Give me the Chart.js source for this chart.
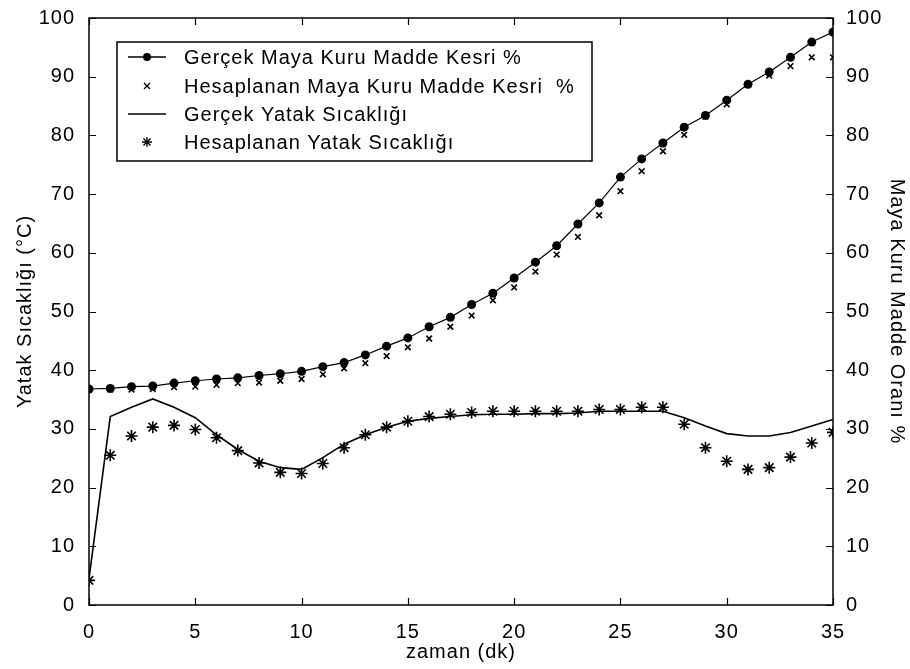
<!DOCTYPE html>
<html>
<head>
<meta charset="utf-8">
<script src="https://cdn.jsdelivr.net/npm/chart.js@4"></script>
<style>
  html, body { margin: 0; padding: 0; background: #fff; }
  #wrap { width: 910px; height: 669px; }
</style>
</head>
<body>
<div id="wrap"><canvas id="dryingChart" width="910" height="669"></canvas></div>
<script>
// time axis (dk)
const minutes = [0,1,2,3,4,5,6,7,8,9,10,11,12,13,14,15,16,17,18,19,20,21,22,23,24,25,26,27,28,29,30,31,32,33,34,35];

// yeast dry matter, measured and calculated (right axis, %)
const mayaGercek = [36.8,36.9,37.2,37.3,37.8,38.2,38.5,38.7,39.1,39.4,39.8,40.6,41.3,42.6,44.1,45.5,47.4,49.0,51.2,53.1,55.7,58.4,61.2,64.9,68.5,72.9,76.0,78.7,81.4,83.4,86.0,88.7,90.8,93.3,95.9,97.6];
const mayaHesap = [36.7,36.7,36.7,36.8,37.1,37.2,37.5,37.8,37.9,38.2,38.5,39.3,40.3,41.2,42.4,43.9,45.4,47.4,49.3,51.9,54.1,56.8,59.7,62.7,66.4,70.5,73.9,77.3,80.1,83.2,85.3,88.6,90.2,91.8,93.3,93.3];

// bed temperature, measured and calculated (left axis, degC)
const yatakGercek = [4.5,32.1,33.7,35.1,33.7,31.9,29.0,26.5,24.5,23.4,23.1,25.1,27.4,29.0,30.3,31.3,31.8,32.1,32.4,32.5,32.5,32.6,32.6,32.7,33.0,33.0,33.0,33.0,31.9,30.5,29.2,28.8,28.8,29.4,30.5,31.6];
const yatakHesap = [4.2,25.5,28.8,30.3,30.6,29.9,28.5,26.3,24.2,22.6,22.4,24.1,26.8,29.0,30.3,31.3,32.1,32.5,32.8,33.0,33.0,33.0,33.0,33.0,33.3,33.3,33.7,33.7,30.8,26.8,24.5,23.1,23.4,25.2,27.6,29.4];

const xTicks = [0,5,10,15,20,25,30,35];
const yTicks = [0,10,20,30,40,50,60,70,80,90,100];

const legendLabels = [
    "Gerçek Maya Kuru Madde Kesri %",
    "Hesaplanan Maya Kuru Madde Kesri  %",
    "Gerçek Yatak Sıcaklığı",
    "Hesaplanan Yatak Sıcaklığı"
];

const FONT = "'Liberation Sans', Arial, sans-serif";

function pairs(xs, ys) {
    return xs.map((x, i) => ({ x: x, y: ys[i] }));
}

// MATLAB style box with inward ticks + legend inside the axes
const boxPlugin = {
    id: 'boxPlugin',
    beforeDraw(chart) {
        chart.ctx.letterSpacing = '1px';
    },
    afterDatasetsDraw(chart) {
        const { ctx, chartArea: a, scales } = chart;
        const len = 7;
        ctx.save();
        ctx.strokeStyle = '#000';
        ctx.lineWidth = 1.5;
        ctx.strokeRect(a.left, a.top, a.right - a.left, a.bottom - a.top);
        ctx.beginPath();
        xTicks.forEach(v => {
            const px = Math.round(scales.x.getPixelForValue(v)) + 0.5;
            ctx.moveTo(px, a.bottom); ctx.lineTo(px, a.bottom - len);
            ctx.moveTo(px, a.top); ctx.lineTo(px, a.top + len);
        });
        yTicks.forEach(v => {
            const py = Math.round(scales.y.getPixelForValue(v)) + 0.5;
            ctx.moveTo(a.left, py); ctx.lineTo(a.left + len, py);
            const pr = Math.round(scales.y1.getPixelForValue(v)) + 0.5;
            ctx.moveTo(a.right, pr); ctx.lineTo(a.right - len, pr);
        });
        ctx.lineWidth = 1.2;
        ctx.stroke();
        ctx.restore();
    },
    afterDraw(chart) {
        const ctx = chart.ctx;
        const bx = 117, by = 42, bw = 475, bh = 119;
        const rows = [57, 86, 114, 142];
        ctx.save();
        ctx.fillStyle = '#fff';
        ctx.fillRect(bx, by, bw, bh);
        ctx.strokeStyle = '#000';
        ctx.lineWidth = 1.5;
        ctx.strokeRect(bx, by, bw, bh);
        ctx.font = '20px ' + FONT;
        ctx.letterSpacing = '1px';
        ctx.fillStyle = '#000';
        ctx.textBaseline = 'middle';
        const x0 = 128, x1 = 166, xm = (x0 + x1) / 2;
        rows.forEach((ry, i) => {
            ctx.beginPath();
            ctx.lineWidth = 1.3;
            if (i === 0 || i === 2) {
                ctx.moveTo(x0, ry); ctx.lineTo(x1, ry); ctx.stroke();
            }
            if (i === 0) {
                ctx.beginPath(); ctx.arc(xm, ry, 4, 0, Math.PI * 2); ctx.fill();
            }
            if (i === 1) {
                const r = 3;
                ctx.moveTo(xm - r, ry - r); ctx.lineTo(xm + r, ry + r);
                ctx.moveTo(xm + r, ry - r); ctx.lineTo(xm - r, ry + r);
                ctx.stroke();
            }
            if (i === 3) {
                const r = 5;
                for (let k = 0; k < 4; k++) {
                    const ang = k * Math.PI / 4;
                    ctx.moveTo(xm - r * Math.cos(ang), ry - r * Math.sin(ang));
                    ctx.lineTo(xm + r * Math.cos(ang), ry + r * Math.sin(ang));
                }
                ctx.stroke();
            }
            ctx.fillText(legendLabels[i], 184, ry + 1);
        });
        ctx.restore();
    }
};

new Chart(document.getElementById('dryingChart'), {
    type: 'scatter',
    data: {
        datasets: [
            {
                label: legendLabels[0],
                data: pairs(minutes, mayaGercek),
                yAxisID: 'y1',
                showLine: true,
                borderColor: '#000',
                borderWidth: 1.2,
                backgroundColor: '#000',
                pointStyle: 'circle',
                pointRadius: 4.5,
                pointBorderWidth: 0,
                tension: 0
            },
            {
                label: legendLabels[1],
                data: pairs(minutes, mayaHesap),
                yAxisID: 'y1',
                showLine: false,
                borderColor: '#000',
                backgroundColor: '#000',
                pointStyle: 'crossRot',
                pointRadius: 4,
                pointBorderWidth: 1.6
            },
            {
                label: legendLabels[2],
                data: pairs(minutes, yatakGercek),
                yAxisID: 'y',
                showLine: true,
                borderColor: '#000',
                borderWidth: 1.6,
                pointRadius: 0,
                tension: 0
            },
            {
                label: legendLabels[3],
                data: pairs(minutes, yatakHesap),
                yAxisID: 'y',
                showLine: false,
                borderColor: '#000',
                backgroundColor: '#000',
                pointStyle: 'star',
                pointRadius: 6,
                pointBorderWidth: 1.6
            }
        ]
    },
    options: {
        responsive: false,
        animation: false,
        layout: { padding: { top: 15, left: 0, right: 0, bottom: 0 } },
        plugins: {
            legend: { display: false },
            tooltip: { enabled: false }
        },
        scales: {
            x: {
                type: 'linear',
                min: 0,
                max: 35,
                afterBuildTicks: s => { s.ticks = xTicks.map(v => ({ value: v })); },
                afterFit: s => { s.height = 64; },
                grid: { display: false },
                border: { display: false },
                ticks: { color: '#000', padding: 7, maxRotation: 0, font: { family: FONT, size: 20 } },
                title: { display: true, text: 'zaman (dk)', color: '#000', padding: { top: 5, bottom: 5 }, font: { family: FONT, size: 20 } }
            },
            y: {
                position: 'left',
                min: 0,
                max: 100,
                afterBuildTicks: s => { s.ticks = yTicks.map(v => ({ value: v })); },
                afterFit: s => { s.width = 89; },
                grid: { display: false },
                border: { display: false },
                ticks: { color: '#000', padding: 6, font: { family: FONT, size: 20 } },
                title: { display: true, text: 'Yatak Sıcaklığı (°C)', color: '#000', padding: { top: 13, bottom: 0 }, font: { family: FONT, size: 20 } }
            },
            y1: {
                position: 'right',
                min: 0,
                max: 100,
                afterBuildTicks: s => { s.ticks = yTicks.map(v => ({ value: v })); },
                afterFit: s => { s.width = 77; },
                grid: { display: false },
                border: { display: false },
                ticks: { color: '#000', padding: 5, font: { family: FONT, size: 20 } },
                title: { display: true, text: 'Maya Kuru Madde Oranı %', color: '#000', padding: { top: 1, bottom: 0 }, font: { family: FONT, size: 20 } }
            }
        }
    },
    plugins: [boxPlugin]
});
</script>
</body>
</html>
